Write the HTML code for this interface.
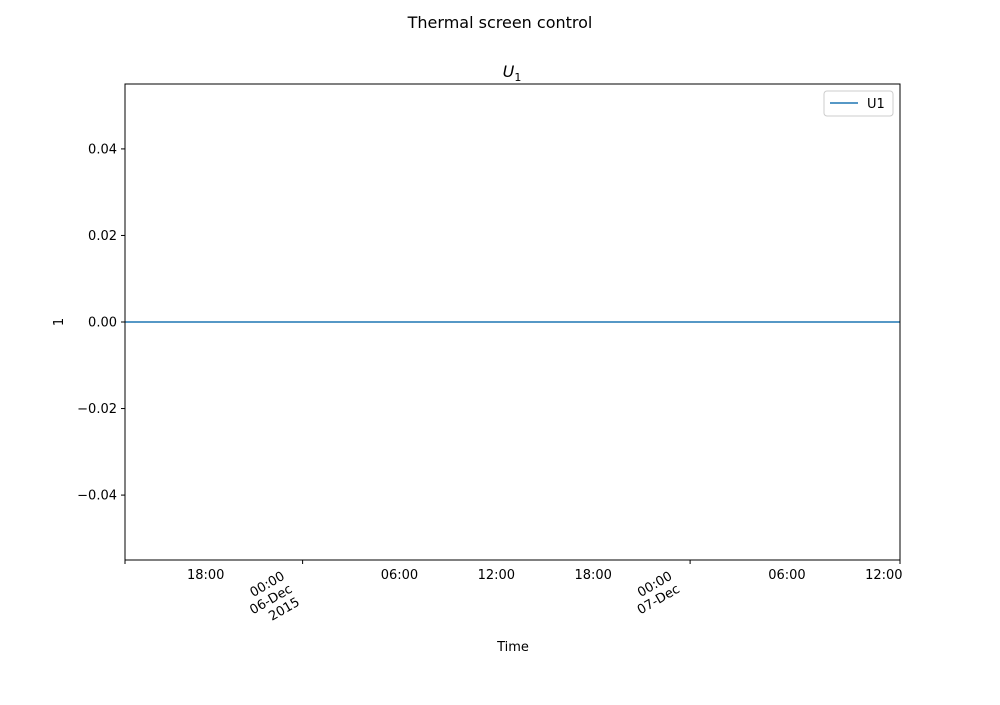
<!DOCTYPE html>
<html><head><meta charset="utf-8"><style>
body{margin:0;background:#fff;font-family:"Liberation Sans","DejaVu Sans",sans-serif;}
svg text{font-family:"DejaVu Sans","Liberation Sans",sans-serif;}
</style></head><body>
<svg id="c" width="1000" height="700" xmlns="http://www.w3.org/2000/svg">
<rect width="1000" height="700" fill="#fff"/>
<text x="500" y="28" font-size="16" text-anchor="middle">Thermal screen control</text>
<text x="512" y="77" font-size="16" text-anchor="middle" font-style="italic">U<tspan font-size="11" dy="4" font-style="normal">1</tspan></text>
<g id="plot"></g>
<rect x="125" y="84" width="775" height="476" fill="none" stroke="#000" stroke-width="1"/>
<text x="513" y="651" font-size="13" text-anchor="middle">Time</text>
<text x="63" y="322" font-size="13" text-anchor="middle" transform="rotate(-90 63 322)">1</text>
<g>
<rect x="824" y="91" width="69" height="25" rx="3" fill="#fff" stroke="#ccc"/>
<line x1="830" y1="103" x2="858" y2="103" stroke="#1f77b4" stroke-width="1.6"/>
<text x="867" y="108" font-size="13">U1</text>
</g>
</svg>
<script>
const yTicks=[-0.04,-0.02,0.00,0.02,0.04];
const yTickLabels=["\u22120.04","\u22120.02","0.00","0.02","0.04"];
const timeHours=[13,61];
const u1Values=[0,0];
const xLabelHours=[18,30,36,42,54,60];
const xLabelText=["18:00","06:00","12:00","18:00","06:00","12:00"];
const xMajorHours=[24,48];
const xMajorText=[["00:00","06-Dec","2015"],["00:00","07-Dec"]];
const xTickHours=[13,24,48,61];

const X0=125,X1=900,Y0=84,Y1=560,XMIN=13,XMAX=61,YMIN=-0.055,YMAX=0.055;
const sx=h=>X0+(h-XMIN)/(XMAX-XMIN)*(X1-X0);
const sy=v=>Y1-(v-YMIN)/(YMAX-YMIN)*(Y1-Y0);
const NS="http://www.w3.org/2000/svg";
const g=document.getElementById('plot');
function mk(t,a){const e=document.createElementNS(NS,t);for(const k in a)e.setAttribute(k,a[k]);g.appendChild(e);return e;}
yTicks.forEach((v,i)=>{
 const y=sy(v);
 const l=mk('line',{x1:X0-4,x2:X0,y1:y,y2:y,stroke:'#000'});
 
 
 const t=mk('text',{x:X0-8,y:y+4.5,'font-size':13,'text-anchor':'end'});
 t.textContent=yTickLabels[i];
 
 
});
xTickHours.forEach(h=>{
 const x=sx(h);
 const l=mk('line',{x1:x,x2:x,y1:Y1,y2:Y1+4,stroke:'#000'});
 
 
});
xLabelHours.forEach((h,i)=>{
 const t=mk('text',{x:sx(h),y:Y1+19,'font-size':13,'text-anchor':'middle'});
 t.textContent=xLabelText[i];
 
 
});
xMajorHours.forEach((h,i)=>{
 const x=sx(h)-19,y=Y1+15;
 const t=mk('text',{x:x,y:y,'font-size':13,'text-anchor':'end',transform:`rotate(-30 ${x} ${y})`});
 xMajorText[i].forEach((s,j)=>{const ts=document.createElementNS(NS,'tspan');ts.setAttribute('x',x);ts.setAttribute('dy',j?15:4);ts.textContent=s;t.appendChild(ts);});
 
 
});
const pts=timeHours.map((h,i)=>sx(h)+','+sy(u1Values[i])).join(' ');
const pl=mk('polyline',{points:pts,fill:'none',stroke:'#1f77b4','stroke-width':1.6});


</script>
</body></html>
